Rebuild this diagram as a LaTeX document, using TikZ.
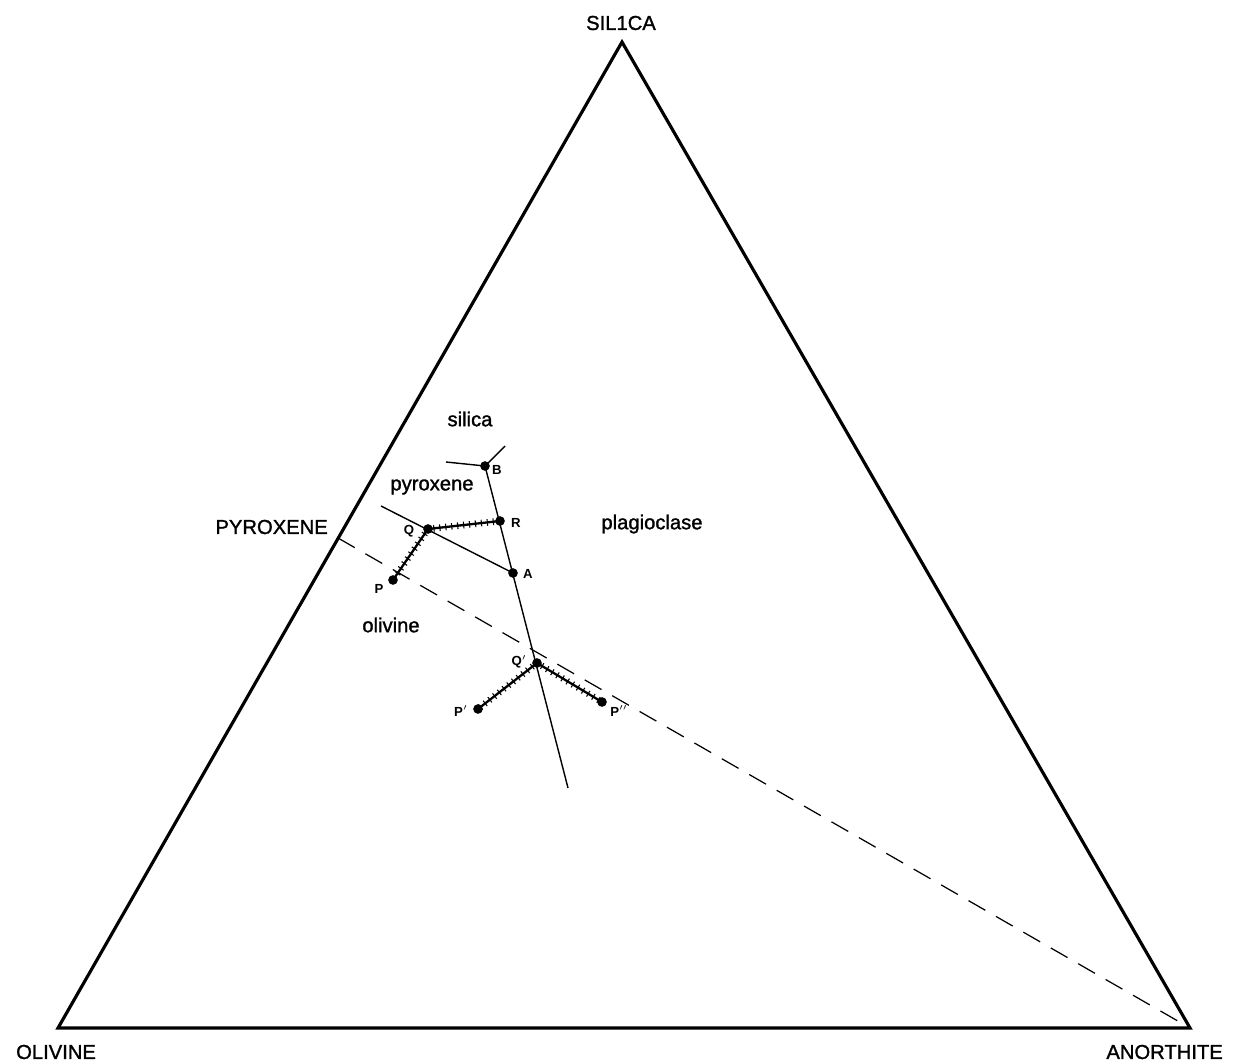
\documentclass[tikz,border=0pt]{standalone}
\usepackage{fontspec}
\setmainfont{Liberation Sans}
\newfontfamily\heavyfont{Liberation Sans}[FakeBold=1.3]
\usetikzlibrary{decorations.pathreplacing}
\begin{document}
\begin{tikzpicture}[x=0.02cm,y=-0.02cm,
  dot/.style={circle,fill,inner sep=0pt,minimum size=5.5pt},
  hatched/.style={line width=1.3pt,
    postaction={decorate,draw,line width=0.6pt,
      decoration={ticks,segment length=3.4pt,amplitude=1.9pt}}},
  big/.style={font=\heavyfont\fontsize{11.5}{13}\selectfont},
  small/.style={font=\fontsize{7.5}{9}\selectfont\bfseries}]
  \useasboundingbox (0,0) rectangle (1234,1064);
  % triangle
  \coordinate (sil) at (622,42);
  \coordinate (oli) at (58,1028);
  \coordinate (ano) at (1190,1028);
  \coordinate (pyx) at (338,538);
  \draw[line width=1.8pt,line join=miter] (sil) -- (oli) -- (ano) -- cycle;
  \draw[dash pattern=on 11pt off 7pt,line width=0.7pt] (pyx) -- (ano);
  \node[big] (tsil) at (621,23) {SIL1CA};
  \node[big,anchor=west] (toli) at (10,1052) {OLIVINE};
  \node[big,anchor=east] (tano) at (1229,1052) {ANORTHITE};
  \node[big,anchor=east] (tpyx) at (334,527) {PYROXENE};
  % field boundaries
  \node[dot] (B) at (485,466) {};
  \node[dot] (R) at (500,521) {};
  \node[dot] (A) at (513,573) {};
  \node[dot] (Q) at (428,529) {};
  \node[dot] (P) at (393,580) {};
  \node[dot] (Q1) at (537,663) {};
  \node[dot] (P1) at (478,709) {};
  \node[dot] (P2) at (602,702) {};
  \coordinate (b1) at (446,462);
  \coordinate (b2) at (505,446);
  \coordinate (end) at (568,788);
  \coordinate (q0) at (381,506);
  \draw[line width=0.8pt] (b1) -- (B.center) -- (b2);
  \draw[line width=0.8pt] (B.center) -- (end);
  \draw[line width=0.8pt] (q0) -- (A.center);
  \draw[hatched] (Q.center) -- (R.center);
  \draw[hatched] (Q.center) -- (P.center);
  \draw[hatched] (Q1.center) -- (P1.center);
  \draw[hatched] (Q1.center) -- (P2.center);
  % labels
  \node[small] (lB) at (497,470) {B};
  \node[small] (lR) at (516,523) {R};
  \node[small] (lA) at (528,574) {A};
  \node[small] (lQ) at (409,531) {Q};
  \node[small] (lP) at (379,589) {P};
  \node[small] (lQ1) at (519,662) {Q$'$};
  \node[small] (lP1) at (461,711) {P$'$};
  \node[small] (lP2) at (619,711) {P$''$};
  \node[big] (fsil) at (470,419) {silica};
  \node[big] (fpyx) at (432,487) {pyroxene};
  \node[big] (fpla) at (652,524) {plagioclase};
  \node[big] (foli) at (391,625) {olivine};
\end{tikzpicture}
\end{document}
